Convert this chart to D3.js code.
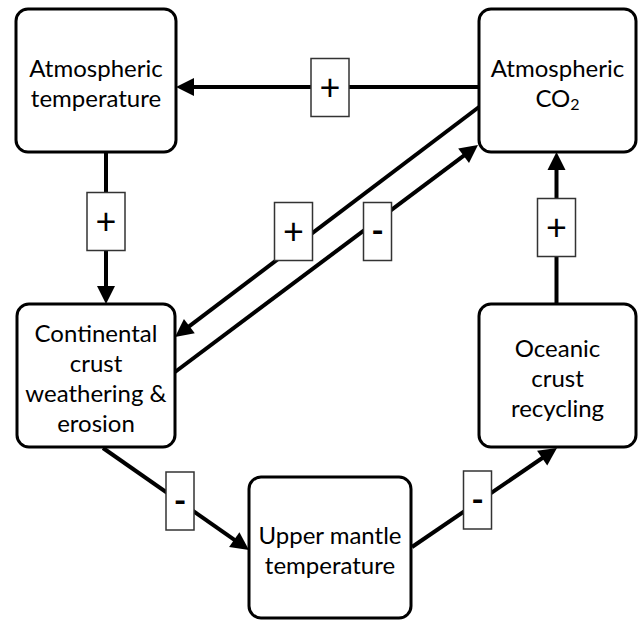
<!DOCTYPE html>
<html>
<head>
<meta charset="utf-8">
<script src="https://cdn.jsdelivr.net/npm/d3@7"></script>
<style>
  body { margin: 0; background: #fff; }
  svg text { font-family: "Gill Sans", Lato, "Open Sans", sans-serif; fill: #000; }
</style>
</head>
<body>
<div id="chart"></div>
<script>
// nodes of the feedback diagram
var nodeIds = ["temp", "co2", "crust", "ocean", "mantle"];
var nodeLines = [
  ["Atmospheric", "temperature"],
  ["Atmospheric", "CO2"],
  ["Continental", "crust", "weathering &", "erosion"],
  ["Oceanic", "crust", "recycling"],
  ["Upper mantle", "temperature"]
];

// links: source -> target with sign of the feedback
var edgeFrom  = ["co2", "temp",  "co2",   "crust", "ocean", "crust",  "mantle"];
var edgeTo    = ["temp", "crust", "crust", "co2",   "co2",   "mantle", "ocean"];
var edgeSigns = ["+",    "+",     "+",     "-",     "+",     "-",      "-"];

// layout (pixel positions of boxes, link ends and sign labels)
var boxLayout = {
  temp:   {x: 16,  y: 9,   w: 160, h: 143},
  co2:    {x: 479, y: 9,   w: 157, h: 143},
  crust:  {x: 17,  y: 304, w: 158, h: 143},
  ocean:  {x: 479, y: 304, w: 157, h: 143},
  mantle: {x: 249, y: 477, w: 162, h: 141}
};
var edgeLayout = [
  {p1: [479, 87],  p2: [176, 87],  lab: [330, 87.5]},
  {p1: [106, 152], p2: [106, 304], lab: [106, 221.5]},
  {p1: [479, 107], p2: [175, 337], lab: [293.5, 231.5]},
  {p1: [175, 372], p2: [478, 145], lab: [377.5, 231.5]},
  {p1: [556.5, 304], p2: [556.5, 152], lab: [556.5, 227.5]},
  {p1: [103, 448], p2: [249, 550], lab: [180, 501]},
  {p1: [412, 547], p2: [557, 448], lab: [477.5, 500]}
];

var W = 639, H = 621;
var svg = d3.select("#chart").append("svg")
    .attr("width", W)
    .attr("height", H)
    .attr("viewBox", "0 0 " + W + " " + H);

var line = d3.line();
var headLen = 18, headHalf = 9;

// links
var links = svg.append("g").attr("class", "links");
edgeSigns.forEach(function(sign, i) {
  var L = edgeLayout[i];
  var dx = L.p2[0] - L.p1[0], dy = L.p2[1] - L.p1[1];
  var len = Math.sqrt(dx * dx + dy * dy);
  var ux = dx / len, uy = dy / len;
  var base = [L.p2[0] - ux * headLen, L.p2[1] - uy * headLen];

  links.append("path")
    .attr("d", line([L.p1, [base[0] + ux * 2, base[1] + uy * 2]]))
    .attr("stroke", "#000")
    .attr("stroke-width", 4)
    .attr("fill", "none");

  links.append("path")
    .attr("d", line([
      L.p2,
      [base[0] - uy * headHalf, base[1] + ux * headHalf],
      [base[0] + uy * headHalf, base[1] - ux * headHalf]
    ]) + "Z")
    .attr("fill", "#000");
});

// sign labels
var signs = svg.append("g").attr("class", "signs");
edgeSigns.forEach(function(sign, i) {
  var c = edgeLayout[i].lab;
  var bw = sign === "+" ? 38 : 28, bh = 58;
  signs.append("rect")
    .attr("x", c[0] - bw / 2)
    .attr("y", c[1] - bh / 2)
    .attr("width", bw)
    .attr("height", bh)
    .attr("fill", "#fff")
    .attr("stroke", "#333")
    .attr("stroke-width", 1.5);
  signs.append("text")
    .attr("x", c[0])
    .attr("y", c[1])
    .attr("dy", "0.35em")
    .attr("text-anchor", "middle")
    .style("font-size", sign === "+" ? "36px" : "34px")
    .style("font-weight", sign === "-" ? "bold" : "normal")
    .text(sign);
});

// boxes
var nodes = svg.append("g").attr("class", "nodes")
  .selectAll("g")
  .data(nodeIds)
  .enter()
  .append("g");

nodes.append("rect")
  .attr("x", function(d) { return boxLayout[d].x; })
  .attr("y", function(d) { return boxLayout[d].y; })
  .attr("width", function(d) { return boxLayout[d].w; })
  .attr("height", function(d) { return boxLayout[d].h; })
  .attr("rx", 12)
  .attr("fill", "#fff")
  .attr("stroke", "#000")
  .attr("stroke-width", 3);

var lineGap = 30;
nodes.each(function(d, i) {
  var b = boxLayout[d];
  var lines = nodeLines[i];
  var cx = b.x + b.w / 2;
  var cy = b.y + b.h / 2 + 3;
  var t = d3.select(this).append("text")
    .attr("text-anchor", "middle")
    .style("font-size", "24px");
  lines.forEach(function(s, k) {
    var y = cy + (k - (lines.length - 1) / 2) * lineGap;
    var ts = t.append("tspan")
      .attr("x", cx)
      .attr("y", y)
      .attr("dy", "0.35em");
    if (s === "CO2") {
      ts.text("CO");
      ts.append("tspan").attr("dy", "0.22em").style("font-size", "16px").text("2");
    } else {
      ts.text(s);
    }
  });
});
</script>
</body>
</html>
